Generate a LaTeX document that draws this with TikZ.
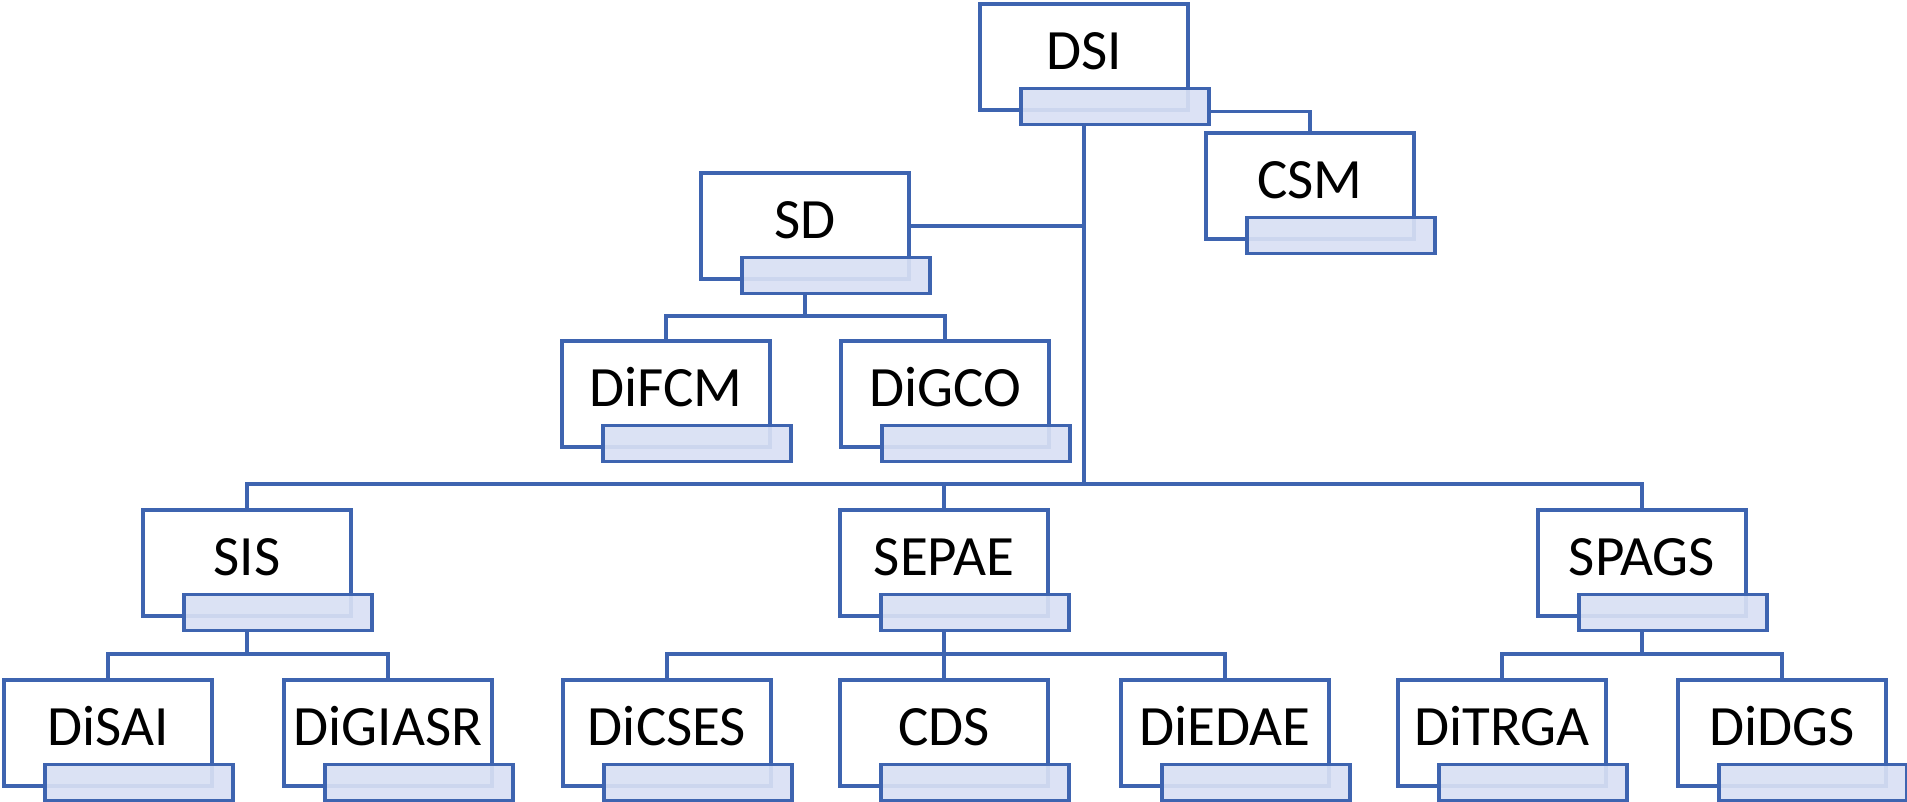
\documentclass[tikz,border=0pt]{standalone}
\usepackage{fontspec}
\setmainfont{Carlito}
\usepackage{tikz}
\usetikzlibrary{positioning,calc}
\definecolor{orgblue}{RGB}{62,100,176}
\definecolor{tabfill}{RGB}{217,224,244}

\begin{document}
\begin{tikzpicture}[x=1pt,y=-1pt,line width=3.2pt,draw=orgblue,unit node/.style={rectangle,draw=orgblue,fill=white,minimum width=208pt,minimum height=106pt,inner sep=0pt,text=black,font=\fontsize{57}{60}\selectfont,text height=37pt,text depth=12pt},tab node/.style={rectangle,draw=orgblue,fill=tabfill,fill opacity=.92,minimum width=188pt,minimum height=36pt,inner sep=0pt}]%
\useasboundingbox (0,0) rectangle (1907,802);
\begin{scope}[every node/.style={unit node}]
\node (dsi) at (1084,57) {DSI};
\node (csm) at (1310,186) {CSM};
\node (sd) at (805,226) {SD};
\node (difcm) at (666,394) {DiFCM};
\node (digco) at (945,394) {DiGCO};
\node (sis) at (247,563) {SIS};
\node (sepae) at (944,563) {SEPAE};
\node (spags) at (1642,563) {SPAGS};
\node (disai) at (108,733) {DiSAI};
\node (digiasr) at (388,733) {DiGIASR};
\node (dicses) at (667,733) {DiCSES};
\node (cds) at (944,733) {CDS};
\node (diedae) at (1225,733) {DiEDAE};
\node (ditrga) at (1502,733) {DiTRGA};
\node (didgs) at (1782,733) {DiDGS};
\end{scope}
\foreach \n in {dsi,csm,sd,difcm,digco,sis,sepae,spags,disai,digiasr,dicses,cds,diedae,ditrga,didgs}
  \node[tab node] (\n-t) at ([xshift=31pt,yshift=5pt]\n.south) {};
\begin{scope}
\coordinate (bus) at (1084,484);
\coordinate (sdj) at (805,316);
\coordinate (sisj) at (247,654);
\coordinate (sepaej) at (944,654);
\coordinate (spagsj) at (1642,654);
\draw (dsi-t.east |- dsi.south) -| (csm.north);
\draw (dsi.south |- dsi-t.south) -- (bus);
\draw (sd.east) -- (sd.east -| bus);
\draw (sis.north) |- (bus) -| (spags.north);
\draw (bus -| sepae.north) -- (sepae.north);
\draw (sd.south |- sd-t.south) -- (sdj);
\draw (difcm.north) |- (sdj) -| (digco.north);
\draw (sis.south |- sis-t.south) -- (sisj);
\draw (disai.north) |- (sisj) -| (digiasr.north);
\draw (sepae.south |- sepae-t.south) -- (sepaej);
\draw (dicses.north) |- (sepaej) -| (diedae.north);
\draw (sepaej) -- (cds.north);
\draw (spags.south |- spags-t.south) -- (spagsj);
\draw (ditrga.north) |- (spagsj) -| (didgs.north);
\end{scope}
\end{tikzpicture}
\end{document}
